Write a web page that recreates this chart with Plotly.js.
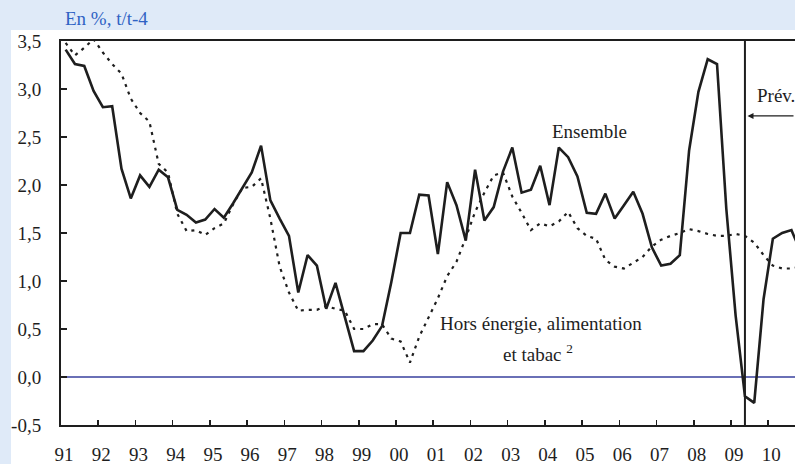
<!DOCTYPE html>
<html>
<head>
<meta charset="utf-8">
<script src="https://cdn.plot.ly/plotly-3.0.1.min.js"></script>
<style>html,body{margin:0;padding:0;background:#dfeaf8;}#chart{width:795px;height:464px;}</style>
</head>
<body>
<div id="chart"></div>
<script>
// Quarterly periods 1991Q1 .. 2010Q4 (plotted at mid-quarter)
const startYear = 1991, endYear = 2010;
const quarters = [];
for (let y = startYear; y <= endYear; y++) for (let q = 1; q <= 4; q++) quarters.push(y + (q - 0.5) / 4);

// Ensemble (t/t-4, %)
const ensemble = [
  3.41, 3.26, 3.24, 2.98, 2.81, 2.82, 2.17, 1.86, 2.10, 1.98,
  2.16, 2.08, 1.74, 1.69, 1.61, 1.64, 1.75, 1.66, 1.81, 1.97,
  2.13, 2.41, 1.84, 1.65, 1.47, 0.88, 1.27, 1.16, 0.71, 0.98,
  0.63, 0.27, 0.27, 0.38, 0.53, 0.99, 1.50, 1.50, 1.90, 1.89,
  1.28, 2.03, 1.79, 1.42, 2.16, 1.63, 1.77, 2.14, 2.39, 1.92,
  1.95, 2.20, 1.79, 2.39, 2.29, 2.09, 1.71, 1.70, 1.91, 1.65,
  1.79, 1.93, 1.70, 1.35, 1.16, 1.18, 1.27, 2.36, 2.97, 3.31,
  3.26, 1.75, 0.64, -0.20, -0.27, 0.81, 1.44, 1.50, 1.53, 1.30
];

// Hors énergie, alimentation et tabac
const horsEnergie = [
  3.48, 3.35, 3.43, 3.52, 3.38, 3.26, 3.16, 2.90, 2.75, 2.66,
  2.22, 2.13, 1.70, 1.52, 1.53, 1.48, 1.55, 1.60, 1.80, 1.97,
  1.98, 2.07, 1.65, 1.15, 0.88, 0.69, 0.70, 0.70, 0.74, 0.71,
  0.69, 0.50, 0.50, 0.55, 0.55, 0.40, 0.37, 0.15, 0.42, 0.62,
  0.82, 1.05, 1.20, 1.45, 1.72, 1.92, 2.10, 2.13, 1.88, 1.71,
  1.53, 1.60, 1.57, 1.62, 1.72, 1.55, 1.47, 1.44, 1.22, 1.15,
  1.13, 1.19, 1.25, 1.36, 1.43, 1.47, 1.50, 1.54, 1.52, 1.49,
  1.47, 1.47, 1.49, 1.47, 1.40, 1.27, 1.16, 1.13, 1.13, 1.15
];

// Tick labels
const xTickVals = [];
const xTickText = [];
for (let y = startYear; y <= endYear; y++) { xTickVals.push(y); xTickText.push(String(y % 100).padStart(2, '0')); }
const yTickVals = [-0.5, 0, 0.5, 1.0, 1.5, 2.0, 2.5, 3.0, 3.5];
const yTickText = ['-0,5', '0,0', '0,5', '1,0', '1,5', '2,0', '2,5', '3,0', '3,5'];

const forecastStart = 2009.375;
const xMax = 2010.72;

const FONT = '"Liberation Serif", "DejaVu Serif", serif';
const INK = '#1e1e1e';

const traces = [
  {x: quarters, y: horsEnergie, type: 'scatter', mode: 'lines', name: 'Hors énergie',
   line: {color: INK, width: 2.2, dash: '3px,5px'}, hoverinfo: 'skip'},
  {x: quarters, y: ensemble, type: 'scatter', mode: 'lines', name: 'Ensemble',
   line: {color: INK, width: 2.6}, hoverinfo: 'skip'}
];

const layout = {
  width: 795, height: 464,
  margin: {l: 61, r: 0, t: 41, b: 39, pad: 0},
  paper_bgcolor: '#dfeaf8',
  plot_bgcolor: 'white',
  showlegend: false,
  font: {family: FONT, size: 19, color: INK},
  title: {text: 'En %, t/t-4', font: {family: FONT, size: 19, color: '#2f62c4'},
          x: 65 / 795, xref: 'container', xanchor: 'left', y: 1 - 18 / 464, yref: 'container', yanchor: 'middle'},
  xaxis: {range: [startYear, xMax], tickmode: 'array', tickvals: xTickVals, ticktext: xTickText,
          ticks: 'inside', ticklen: 5, tickwidth: 1.5, tickcolor: INK,
          showline: true, linewidth: 2, linecolor: INK, mirror: true,
          showgrid: false, zeroline: false, ticklabelstandoff: 11, ticklabelshift: 3,
          tickfont: {family: FONT, size: 19, color: INK}},
  yaxis: {range: [-0.5, 3.5], tickmode: 'array', tickvals: yTickVals, ticktext: yTickText,
          ticks: 'inside', ticklen: 6, tickwidth: 1.5, tickcolor: INK,
          showline: true, linewidth: 2, linecolor: INK,
          showgrid: false, zeroline: true, zerolinecolor: '#6a70b6', zerolinewidth: 2,
          ticklabelstandoff: 14,
          tickfont: {family: FONT, size: 19, color: INK}},
  shapes: [
    {type: 'rect', xref: 'paper', yref: 'paper', x0: -50 / 734, x1: 1.05, y0: -0.2, y1: (425 - 30) / 384,
     fillcolor: 'white', line: {width: 0}, layer: 'below'},
    {type: 'line', xref: 'x', yref: 'paper', x0: forecastStart, x1: forecastStart, y0: -0.005, y1: 1,
     line: {color: INK, width: 2}}
  ],
  annotations: [
    {x: 2005.21, y: 2.555, xref: 'x', yref: 'y', text: 'Ensemble', showarrow: false,
     font: {family: FONT, size: 19, color: INK}},
    {x: 2003.89, y: 0.5625, xref: 'x', yref: 'y', text: 'Hors énergie, alimentation', showarrow: false,
     font: {family: FONT, size: 19, color: INK}},
    {x: 2003.81, y: 0.25, xref: 'x', yref: 'y', text: 'et tabac <sup>2</sup>', showarrow: false,
     font: {family: FONT, size: 19, color: INK}},
    {x: 2009.64, y: 2.9375, xref: 'x', yref: 'y', text: 'Prév.', showarrow: false, xanchor: 'left',
     font: {family: FONT, size: 19, color: INK}},
    {x: 2009.444, y: 2.72, xref: 'x', yref: 'y', ax: xMax, ay: 2.72, axref: 'x', ayref: 'y', text: '',
     showarrow: true, arrowhead: 2, arrowsize: 1, arrowwidth: 1.2, arrowcolor: INK}
  ]
};

Plotly.newPlot('chart', traces, layout, {displayModeBar: false, staticPlot: true});
</script>
</body>
</html>
